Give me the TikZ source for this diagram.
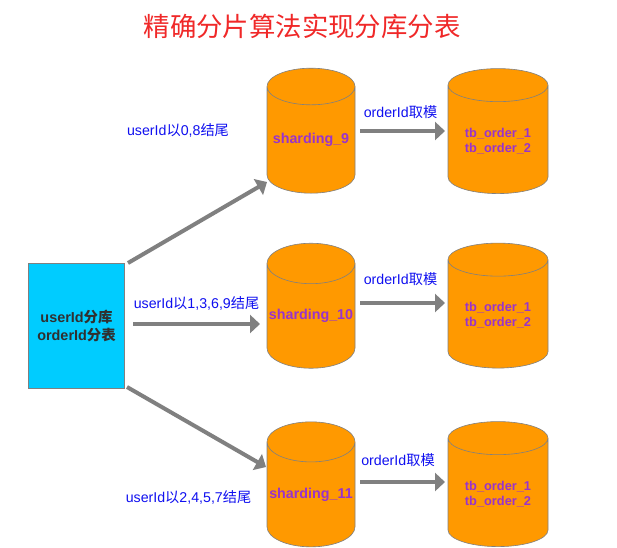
\documentclass[tikz,border=0pt]{standalone}
\usepackage{fontspec}
\setmainfont{Liberation Sans}
\newfontfamily\cjk{Noto Sans CJK SC}
\usetikzlibrary{shapes.geometric,arrows.meta}
\definecolor{cylfill}{HTML}{FF9900}
\definecolor{boxfill}{HTML}{00CCFF}
\definecolor{linegray}{HTML}{808080}
\definecolor{purpletext}{HTML}{9933CC}
\definecolor{bluetext}{HTML}{1010F0}
\definecolor{titlered}{HTML}{F02828}
\definecolor{darktext}{HTML}{303030}
\newcommand{\tbstrut}{\rule{0pt}{12.4pt}}
\tikzset{
  dbcyl/.style={cylinder,shape border rotate=90,draw=linegray,line width=0.6pt,fill=cylfill,
    aspect=0.48,minimum width=88pt,minimum height=125pt,inner sep=0pt,outer sep=0pt,
    text=purpletext,font=\bfseries\fontsize{14.3}{15}\selectfont,align=center},
  tablecyl/.style={dbcyl,aspect=0.5,minimum width=100pt,font=\bfseries\fontsize{12.8}{15}\selectfont},
  flow/.style={draw=linegray,line width=4pt,-{Triangle[length=10pt,width=18pt]}},
  lbl/.style={text=bluetext,font=\fontsize{14.2}{15}\selectfont,inner sep=0pt},
}
\begin{document}
\begin{tikzpicture}[x=1pt,y=-1pt]
\useasboundingbox[fill=white] (0,0) rectangle (617,547);
\node[text=titlered,font=\cjk\fontsize{26.4}{30}\selectfont,inner sep=0pt] (title) at (302,26) {精确分片算法实现分库分表};
\node[draw=linegray,line width=0.8pt,fill=boxfill,minimum width=96pt,minimum height=125pt,inner sep=0pt,outer sep=0pt,
  text=darktext,font=\bfseries\fontsize{14.4}{18}\selectfont,align=center] (src) at (76.5,325.5)
  {userId{\cjk 分库}\\orderId{\cjk 分表}};
\node[dbcyl] (db9) at (311,140) {sharding\_9};
\node[dbcyl] (db10) at (311,316) {sharding\_10};
\node[dbcyl] (db11) at (311,494.5) {sharding\_11};
\node[tablecyl] (t1) at (498,139.5) {\tbstrut tb\_order\_1\\tb\_order\_2};
\node[tablecyl] (t2) at (498,314) {\tbstrut tb\_order\_1\\tb\_order\_2};
\node[tablecyl] (t3) at (498,492.5) {\tbstrut tb\_order\_1\\tb\_order\_2};
\node[lbl] (l1) at (178,130) {userId{\cjk 以}0,8{\cjk 结尾}};
\node[lbl] (l2) at (196.5,303) {userId{\cjk 以}1,3,6,9{\cjk 结尾}};
\node[lbl] (l3) at (188.5,497) {userId{\cjk 以}2,4,5,7{\cjk 结尾}};
\node[lbl] (m1) at (400.5,112) {orderId{\cjk 取模}};
\node[lbl] (m2) at (400.5,279) {orderId{\cjk 取模}};
\node[lbl] (m3) at (398,460) {orderId{\cjk 取模}};
\coordinate (a1s) at (128,263);
\coordinate (a1e) at (267,182);
\coordinate (a2s) at (133,324);
\coordinate (a2e) at (260,324);
\coordinate (a3s) at (127,387);
\coordinate (a3e) at (266,467);
\draw[flow] (a1s) -- (a1e);
\draw[flow] (a2s) -- (a2e);
\draw[flow] (a3s) -- (a3e);
\coordinate (b1s) at (360,131);
\coordinate (b1e) at (445,131);
\coordinate (b2s) at (360,303);
\coordinate (b2e) at (445,303);
\coordinate (b3s) at (360,482);
\coordinate (b3e) at (445,482);
\draw[flow] (b1s) -- (b1e);
\draw[flow] (b2s) -- (b2e);
\draw[flow] (b3s) -- (b3e);
\end{tikzpicture}
\end{document}
